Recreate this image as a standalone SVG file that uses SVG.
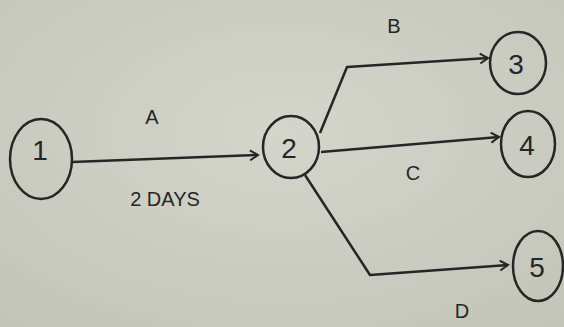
<svg xmlns="http://www.w3.org/2000/svg" width="564" height="327" viewBox="0 0 564 327">
<defs>
<marker id="arr" viewBox="0 0 12 12" refX="10" refY="6" markerWidth="12" markerHeight="12" markerUnits="userSpaceOnUse" orient="auto">
<path d="M2,1 L10,6 L2,11" fill="none" stroke="#262626" stroke-width="2"/>
</marker>
<radialGradient id="bg" cx="0.5" cy="0.4" r="0.8">
<stop offset="0" stop-color="#d4d6cc"/>
<stop offset="1" stop-color="#c2c4b8"/>
</radialGradient>
</defs>
<style>
.n{fill:none;stroke:#262626;stroke-width:2.5}
.e{fill:none;stroke:#262626;stroke-width:2.5;marker-end:url(#arr);stroke-linejoin:round}
.t{font-family:"Liberation Sans",Arial,sans-serif;font-size:28px;fill:#262626;text-anchor:middle}
.l{font-family:"Liberation Sans",Arial,sans-serif;font-size:20px;fill:#262626;text-anchor:middle}
</style>
<rect width="564" height="327" fill="url(#bg)"/>
<g id="connectors">
<g id="eA"><path class="e" d="M72,162 L258,155"/><text class="l" x="152" y="124">A</text><text class="l" x="165" y="206">2 DAYS</text></g>
<g id="eB"><path class="e" d="M320,133 L347,67 L488,58"/><text class="l" x="394" y="33">B</text></g>
<g id="eC"><path class="e" d="M321,152 L499,137"/><text class="l" x="413" y="180">C</text></g>
<g id="eD"><path class="e" d="M305,175 L370,275 L508,265"/><text class="l" x="462" y="318">D</text></g>
</g>
<g id="n1"><ellipse class="n" cx="41" cy="159" rx="31" ry="40"/><text class="t" x="40" y="160">1</text></g>
<g id="n2"><ellipse class="n" cx="291" cy="147" rx="28" ry="31"/><text class="t" x="289" y="158">2</text></g>
<g id="n3"><ellipse class="n" cx="518" cy="63" rx="28" ry="31"/><text class="t" x="516" y="74">3</text></g>
<g id="n4"><ellipse class="n" cx="528" cy="144" rx="27" ry="33"/><text class="t" x="527" y="155">4</text></g>
<g id="n5"><ellipse class="n" cx="538" cy="266" rx="25" ry="35"/><text class="t" x="537" y="277">5</text></g>
</svg>
